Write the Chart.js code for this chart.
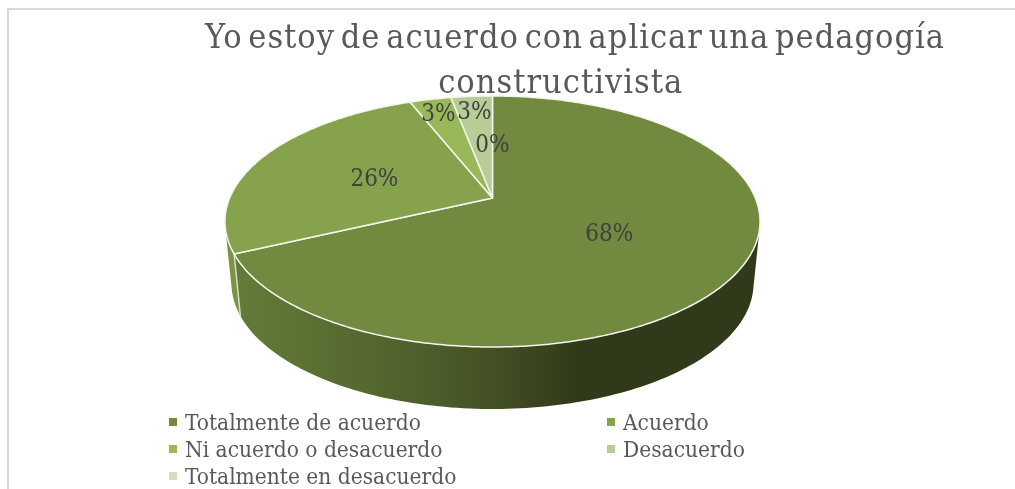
<!DOCTYPE html>
<html lang="es">
<head>
<meta charset="utf-8">
<title>Pedagogía constructivista</title>
<script src="https://cdn.jsdelivr.net/npm/chart.js@4"></script>
<style>
    html, body { margin: 0; padding: 0; background: #fff; overflow: hidden; }
    canvas { display: block; }
</style>
</head>
<body>
<canvas id="pieChart" width="1015" height="489"></canvas>
<script>
// Data
const titleLines = ['Yo estoy de acuerdo con aplicar una pedagogía', 'constructivista\u00a0\u00a0\u00a0\u00a0\u00a0'];
const categories = ['Totalmente de acuerdo', 'Acuerdo', 'Ni acuerdo o desacuerdo', 'Desacuerdo', 'Totalmente en desacuerdo'];
const percentages = [68, 26, 3, 3, 0];
const sliceColors = ['#718a3f', '#87a24d', '#99b859', '#b8cc95', '#d0dfc0'];

const FONT = '"DejaVu Serif Condensed", "Liberation Serif", serif';

// Perspective of the pie: top face and bottom face
const CX = 492.5;
const TILT = 0.1872;
const topFace = { y: 198, a: 262.8, b: 121.1 };
const bottomFace = { y: 260, a: 256.4, b: 121.1 };

function project(face, angle, r = 1) {
    const u = Math.sin(angle) * r;
    const v = -Math.cos(angle) * r;
    const w = 1 - TILT * v;
    return { x: CX + face.a * u / w, y: face.y + face.b * v / w };
}

// angles of chart.js start at -90deg, the projection starts at the top
function sliceAngles(arc) {
    return [arc.startAngle + Math.PI / 2, arc.endAngle + Math.PI / 2];
}

function traceRim(ctx, face, from, to) {
    const steps = Math.max(2, Math.ceil((to - from) / 0.01));
    for (let i = 0; i <= steps; i++) {
        const p = project(face, from + (to - from) * i / steps);
        ctx.lineTo(p.x, p.y);
    }
}

function wallFill(ctx, index) {
    const g = ctx.createLinearGradient(225, 0, 760, 0);
    if (index === 0) {
        g.addColorStop(0, '#647d3a');
        g.addColorStop(0.1, '#5f7536');
        g.addColorStop(0.35, '#4f612c');
        g.addColorStop(0.5, '#434f24');
        g.addColorStop(0.66, '#303a1a');
        g.addColorStop(1, '#303a1a');
    } else {
        g.addColorStop(0, '#7a9444');
        g.addColorStop(1, '#6b8439');
    }
    return g;
}

// one path of small quads from the top rim to the bottom rim,
// every quad wound the same way so the fill is a clean union
function drawWall(ctx, from, to, fill) {
    const steps = Math.max(1, Math.ceil((to - from) / 0.02));
    ctx.beginPath();
    for (let i = 0; i < steps; i++) {
        const a1 = from + (to - from) * i / steps;
        const a2 = from + (to - from) * (i + 1) / steps;
        let quad = [project(topFace, a1), project(topFace, a2), project(bottomFace, a2), project(bottomFace, a1)];
        let area = 0;
        quad.forEach((p, j) => {
            const n = quad[(j + 1) % 4];
            area += p.x * n.y - n.x * p.y;
        });
        if (area < 0) quad = quad.reverse();
        ctx.moveTo(quad[0].x, quad[0].y);
        ctx.lineTo(quad[1].x, quad[1].y);
        ctx.lineTo(quad[2].x, quad[2].y);
        ctx.lineTo(quad[3].x, quad[3].y);
        ctx.closePath();
    }
    ctx.fillStyle = fill;
    ctx.fill();
}

const piePlugin = {
    id: 'perspectivePie',
    beforeDraw(chart) {
        // frame of the picture
        const ctx = chart.ctx;
        ctx.save();
        ctx.strokeStyle = '#d9d9d9';
        ctx.lineWidth = 2;
        ctx.beginPath();
        ctx.moveTo(8, 489);
        ctx.lineTo(8, 9);
        ctx.lineTo(1015, 9);
        ctx.stroke();
        ctx.restore();
        // the title block draws right after this hook
        ctx.letterSpacing = '1px';
        ctx.wordSpacing = '-5px';
    },
    beforeDatasetsDraw(chart) {
        const ctx = chart.ctx;
        const arcs = chart.getDatasetMeta(0).data;
        ctx.letterSpacing = '0px';
        ctx.wordSpacing = '0px';
        ctx.save();

        // side wall, back slices first
        for (let i = arcs.length - 1; i >= 0; i--) {
            const [from, to] = sliceAngles(arcs[i]);
            if (to - from > 0) drawWall(ctx, from, to, wallFill(ctx, i));
        }

        // light edge between the two visible walls
        const seam = sliceAngles(arcs[0])[1];
        const s1 = project(topFace, seam);
        const s2 = project(bottomFace, seam);
        ctx.strokeStyle = 'rgba(225,230,215,0.9)';
        ctx.lineWidth = 1.5;
        ctx.beginPath();
        ctx.moveTo(s1.x, s1.y);
        ctx.lineTo(s2.x, s2.y);
        ctx.stroke();

        // top face
        arcs.forEach((arc, i) => {
            const [from, to] = sliceAngles(arc);
            if (to - from <= 0) return;
            ctx.beginPath();
            ctx.moveTo(CX, topFace.y);
            traceRim(ctx, topFace, from, to);
            ctx.closePath();
            ctx.fillStyle = sliceColors[i];
            ctx.fill();
            ctx.strokeStyle = '#f4f6ee';
            ctx.lineWidth = 1.5;
            ctx.lineJoin = 'round';
            ctx.stroke();
        });

        // value labels
        ctx.font = '24px ' + FONT;
        ctx.fillStyle = '#404040';
        ctx.textAlign = 'center';
        ctx.textBaseline = 'middle';
        arcs.forEach((arc, i) => {
            const [from, to] = sliceAngles(arc);
            const small = percentages[i] > 0 && percentages[i] < 5;
            const p = project(topFace, (from + to) / 2, small ? 0.85 : 0.5);
            ctx.fillText(percentages[i] + '%', p.x, p.y + 3);
        });

        ctx.restore();
        return false;
    },
    afterDraw(chart) {
        // legend in two fixed columns
        const ctx = chart.ctx;
        ctx.save();
        ctx.font = '22.5px ' + FONT;
        ctx.textAlign = 'left';
        ctx.textBaseline = 'alphabetic';
        categories.forEach((name, i) => {
            const x = i % 2 === 0 ? 169 : 607;
            const y = 422 + Math.floor(i / 2) * 27;
            ctx.fillStyle = sliceColors[i];
            ctx.fillRect(x, y - 4, 8, 8);
            ctx.fillStyle = '#595959';
            ctx.fillText(name, x + 16, y + 8);
        });
        ctx.restore();
    }
};

new Chart(document.getElementById('pieChart'), {
    type: 'pie',
    data: {
        labels: categories,
        datasets: [{ data: percentages, backgroundColor: sliceColors, borderWidth: 0 }]
    },
    options: {
        responsive: false,
        animation: false,
        layout: { padding: { left: 135, top: 17 } },
        plugins: {
            legend: { display: false },
            tooltip: { enabled: false },
            title: {
                display: true,
                text: titleLines,
                color: '#595959',
                font: { family: FONT, size: 34, weight: 'normal', lineHeight: 1.32 },
                padding: 0
            }
        }
    },
    plugins: [piePlugin]
});
</script>
</body>
</html>
